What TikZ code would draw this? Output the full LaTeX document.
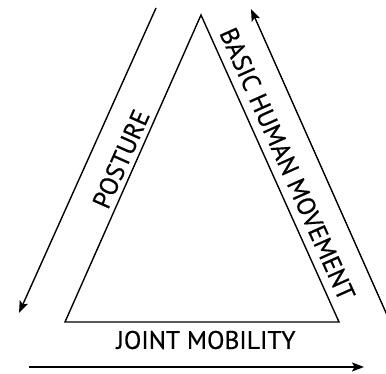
\documentclass[tikz,border=0pt]{standalone}
\usepackage{fontspec}
\setmainfont{PT Sans}[FakeBold=0.5]
\usetikzlibrary{arrows.meta}
\tikzset{
  edge/.style={line width=1.4pt, line join=miter},
  flow/.style={line width=1.4pt, -{Stealth[length=12pt,width=9pt,inset=2.5pt]}},
  lbl/.style={font=\fontsize{25.5}{30}\selectfont, inner sep=0pt}
}
\begin{document}
\begin{tikzpicture}[x=1pt,y=1pt]
\useasboundingbox (0,0) rectangle (386,374);
% triangle
\coordinate (A) at (201,359);
\coordinate (BL) at (65,52);
\coordinate (BR) at (339,52);
\draw[edge] (A) -- (BL) -- (BR) -- cycle;
% arrows
\coordinate (p1) at (156,366);
\coordinate (p2) at (19,61);
\draw[flow] (p1) -- (p2);
\coordinate (b1) at (391,50);
\coordinate (b2) at (251,365);
\draw[flow] (b1) -- (b2);
\coordinate (j1) at (29,7);
\coordinate (j2) at (364,7);
\draw[flow] (j1) -- (j2);
% labels
\node[lbl, rotate=66.1] (posture) at (121,215) {POSTURE};
\node[lbl, rotate=-65.9] (bhm) at (287.5,210) {BASIC HUMAN MOVEMENT};
\node[lbl] (joint) at (206,34) {JOINT MOBILITY};
\end{tikzpicture}
\end{document}
